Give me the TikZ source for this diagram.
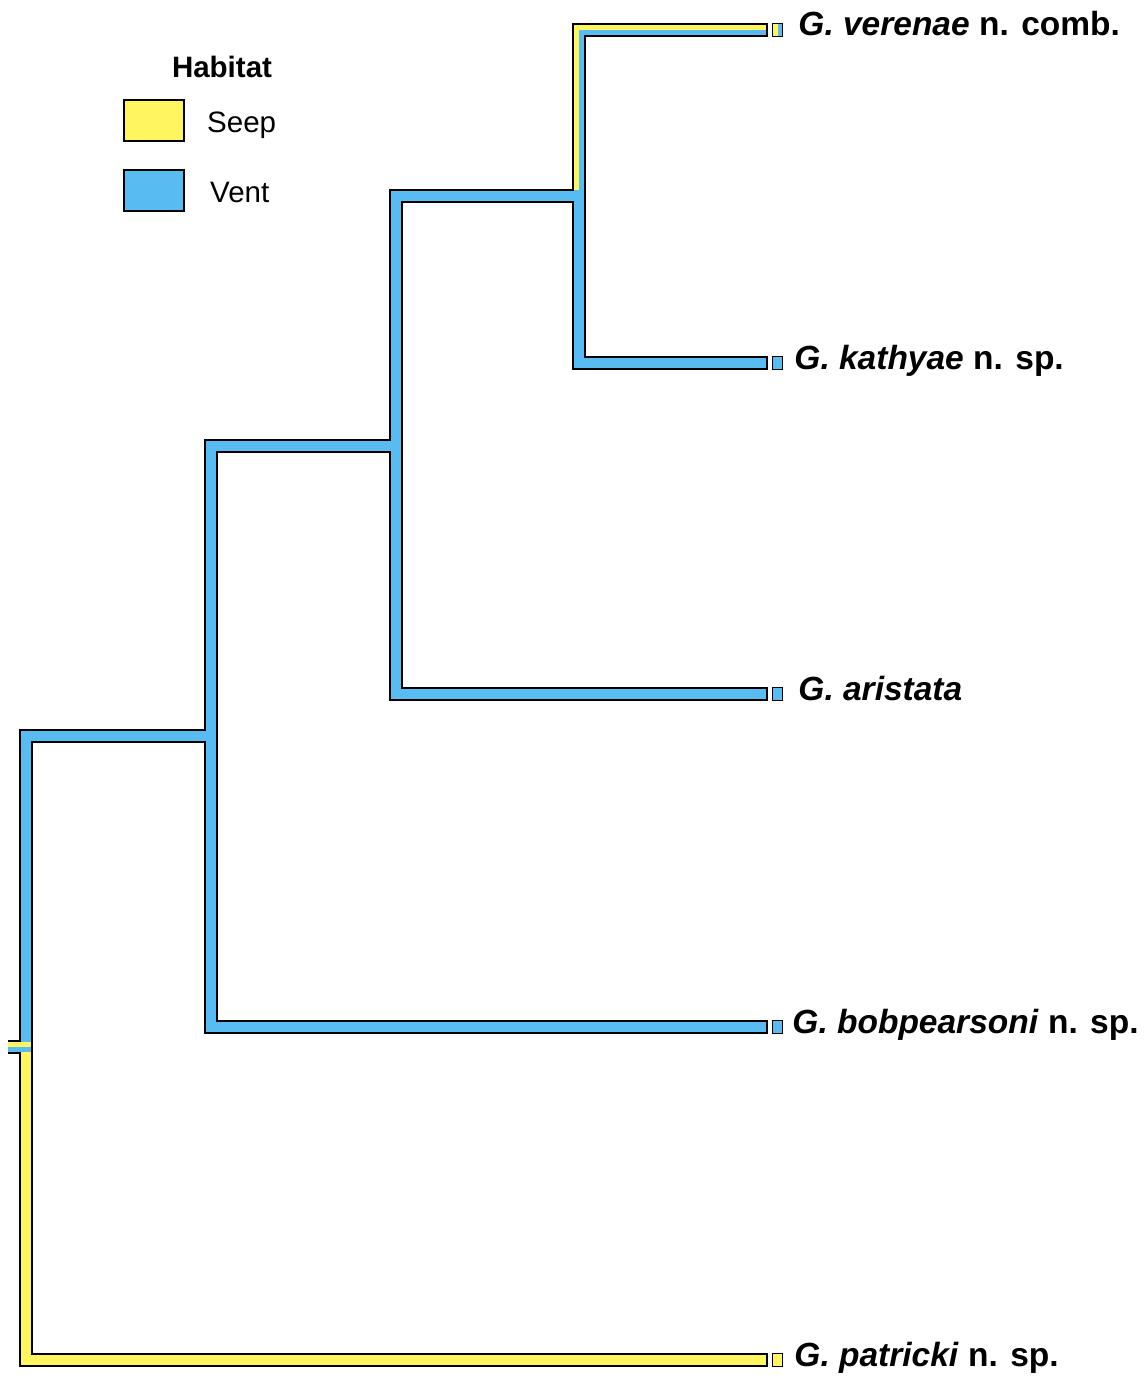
\documentclass[tikz,border=0pt]{standalone}
\usepackage{fontspec}
\setmainfont{Liberation Sans}
\usepackage{tikz}
\usetikzlibrary{positioning,calc}
\definecolor{seep}{RGB}{255,245,95}
\definecolor{vent}{RGB}{88,188,242}
\tikzstyle{edge}=[line width=14pt, draw=black, line join=miter]
\tikzstyle{ventedge}=[line width=10pt, draw=vent, line join=miter]
\tikzstyle{seepedge}=[line width=10pt, draw=seep, line join=miter]
\tikzstyle{tip}=[fill=vent, draw=black, line width=1.5pt, inner sep=0pt,
        minimum width=10pt, minimum height=13pt]
\tikzstyle{mixed}=[path picture={\fill[seep] (path picture bounding box.south west)
        rectangle (path picture bounding box.north);}]
\tikzstyle{taxon}=[font=\fontsize{33.5}{40}\selectfont\bfseries, inner sep=0pt]
\tikzstyle{key}=[draw=black, line width=2pt, inner sep=0pt,
        minimum width=60pt, minimum height=41pt]
\tikzstyle{keytext}=[font=\fontsize{29.5}{35}\selectfont, inner sep=0pt]

\begin{document}
\begin{tikzpicture}[x=1pt, y=-1pt]
        \useasboundingbox (0,0) rectangle (1145,1380);

        \node[font=\fontsize{29.5}{35}\selectfont\bfseries] (hab) at (222,67) {Habitat};
        \node[key, fill=seep] (k0) at (154,120.5) {};
        \node[key, fill=vent, below=27pt of k0] (k1) {};
        \node[keytext, right=22pt of k0, anchor=base west, yshift=-12.5pt] {Seep};
        \node[keytext, right=25pt of k1, anchor=base west, yshift=-12.5pt] {Vent};

        \coordinate (s) at (8,1047);
        \coordinate (r) at (26,1047);
        \coordinate (n1) at (211,736);
        \coordinate (n2) at (396,446);
        \coordinate (n3) at (579,196);

        \node[tip, mixed] (0) at (777.5,30) {};
        \node[tip] (1) at (777.5,363) {};
        \node[tip] (2) at (777.5,694) {};
        \node[tip] (3) at (777.5,1027) {};
        \node[tip, fill=seep] (4) at (777.5,1360) {};

        \node[taxon, right=15pt of 0, anchor=base west, yshift=-6pt]
            {\itshape G. verenae\/ \upshape n. comb.};
        \node[taxon, right=11pt of 1, anchor=base west, yshift=-6pt]
            {\itshape G. kathyae\/ \upshape n. sp.};
        \node[taxon, right=15pt of 2, anchor=base west, yshift=-6pt]
            {\itshape G. aristata};
        \node[taxon, right=9pt of 3, anchor=base west, yshift=-6pt]
            {\itshape G. bobpearsoni\/ \upshape n. sp.};
        \node[taxon, right=11pt of 4, anchor=base west, yshift=-6pt]
            {\itshape G. patricki\/ \upshape n. sp.};

        \draw[edge, shorten <=4pt, shorten >=4pt] (0.west) -- (n3 |- 0) -- (n3 |- 1) -- (1.west);
        \draw[edge, shorten >=4pt] (n3) -- (n2 |- n3) -- (n2 |- 2) -- (2.west);
        \draw[edge, shorten >=4pt] (n2) -- (n1 |- n2) -- (n1 |- 3) -- (3.west);
        \draw[edge, shorten >=4pt] (n1) -- (r |- n1) -- (r |- 4) -- (4.west);
        \draw[edge] (s) -- (r);

        \draw[ventedge, shorten <=6pt, shorten >=6pt] (0.west) -- (n3 |- 0) -- (n3 |- 1) -- (1.west);
        \draw[ventedge, shorten >=6pt] (n3) -- (n2 |- n3) -- (n2 |- 2) -- (2.west);
        \draw[ventedge, shorten >=6pt] (n2) -- (n1 |- n2) -- (n1 |- 3) -- (3.west);
        \draw[ventedge] (n1) -- (r |- n1) -- (r);
        \draw[seepedge, shorten >=6pt] (r) -- (r |- 4) -- (4.west);

        \draw[seepedge, line width=5pt] ($(0.west)+(-6,-2.5)$) -- ($(n3 |- 0)+(-2.5,-2.5)$)
            -- ($(n3)+(-2.5,-6)$);
        \draw[seepedge, line width=5pt] ($(s)+(0,-2.5)$) -- ($(r)+(5,-2.5)$);
        \draw[ventedge, line width=5pt] ($(s)+(0,2.5)$) -- ($(r)+(5,2.5)$);
\end{tikzpicture}
\end{document}
